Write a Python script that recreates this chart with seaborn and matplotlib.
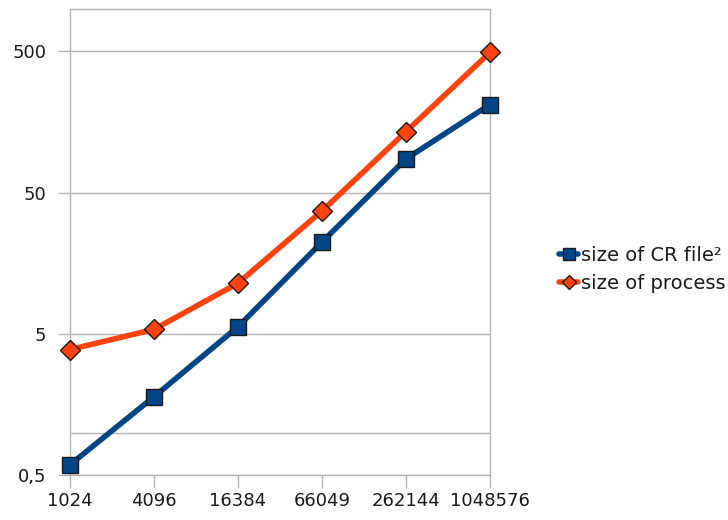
import matplotlib
matplotlib.use("Agg")
import matplotlib.pyplot as plt
from matplotlib.lines import Line2D
from matplotlib.ticker import FixedLocator, NullFormatter
import seaborn as sns
import pandas as pd

# Values
sizes = ["1024", "4096", "16384", "66049", "262144", "1048576"]
cr_file = [0.59, 1.79, 5.6, 22.3, 86.6, 210]
process = [3.87, 5.37, 11.4, 37.0, 135, 491]
series_names = ["size of CR file\u00b2", "size of process"]
y_ticks = [0.5, 5, 50, 500]
y_labels = ["0,5", "5", "50", "500"]

df = pd.DataFrame({
    "size": sizes * 2,
    "value": cr_file + process,
    "series": [series_names[0]] * len(sizes) + [series_names[1]] * len(sizes),
})

sns.set_style("white", {"xtick.bottom": True, "ytick.left": True})
plt.rcParams["font.family"] = ["DejaVu Sans"]

colors = {series_names[0]: "#004586", series_names[1]: "#ff420e"}
grid_col = "#b3b3b3"
text_col = "#1a1a1a"

fig = plt.figure(figsize=(7.28, 5.2), dpi=100)
ax = fig.add_axes([0.096, 0.0865, 0.577, 0.8965])

sns.lineplot(data=df, x="size", y="value", hue="series", style="series",
             palette=colors, markers={series_names[0]: "s", series_names[1]: "D"},
             dashes=False, linewidth=4, markersize=12, markeredgecolor=text_col,
             markeredgewidth=1, legend=False, sort=False, ax=ax)
for line in ax.get_lines():
    line.set_clip_on(False)
    line.set_zorder(5)
    if line.get_marker() == "D":
        line.set_markersize(10)

ax.set_yscale("log")
ax.set_ylim(0.5, 1000)
ax.set_xlim(0, len(sizes) - 1)
ax.yaxis.set_major_locator(FixedLocator(y_ticks))
ax.set_yticklabels(y_labels)
ax.yaxis.set_minor_locator(FixedLocator([1]))
ax.yaxis.set_minor_formatter(NullFormatter())
ax.grid(True, axis="y", which="both", color=grid_col, linewidth=1)
ax.set_xlabel("")
ax.set_ylabel("")
ax.tick_params(axis="both", which="major", length=9, width=1, color=grid_col,
               labelsize=13, labelcolor=text_col, direction="out")
ax.tick_params(axis="y", which="major", pad=8)
ax.tick_params(axis="x", which="major", pad=3)
ax.tick_params(axis="y", which="minor", length=0)
for s in ax.spines.values():
    s.set_color(grid_col)
    s.set_linewidth(1)

handles = [Line2D([], [], color=colors[n], linewidth=4, marker=m,
                  markersize=ms, markeredgecolor=text_col)
           for n, m, ms in zip(series_names, ["s", "D"], [8, 7])]
fig.legend(handles, series_names, loc="center left", bbox_to_anchor=(0.757, 0.482),
           frameon=False, fontsize=14, handlelength=1.0, handletextpad=0.15,
           labelspacing=0.45, borderaxespad=0, labelcolor=text_col)

fig.savefig("out.png", dpi=100)
